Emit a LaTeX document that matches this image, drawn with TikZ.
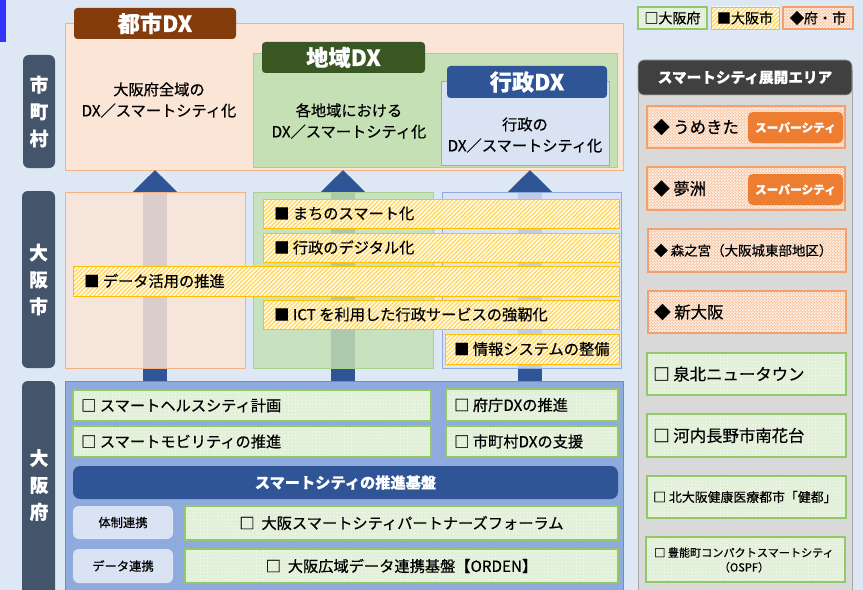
\documentclass[tikz,border=0pt]{standalone}
\usepackage{fontspec}
\setmainfont{Noto Sans CJK JP}[FakeBold=0.5]
\usetikzlibrary{patterns,patterns.meta,arrows.meta}
\pgfdeclarepattern{name=finechk, type=uncolored, bottom left={\pgfpoint{0pt}{0pt}}, top right={\pgfpoint{2.4pt}{2.4pt}}, tile size={\pgfpoint{2.4pt}{2.4pt}}, code={\pgfpathrectangle{\pgfpointorigin}{\pgfpoint{1.2pt}{1.2pt}}\pgfpathrectangle{\pgfpoint{1.2pt}{1.2pt}}{\pgfpoint{1.2pt}{1.2pt}}\pgfusepath{fill}}}
\definecolor{bgc}{RGB}{221,232,244}
\definecolor{labc}{RGB}{68,84,106}
\definecolor{orfill}{RGB}{251,229,214}
\definecolor{orline}{RGB}{244,177,131}
\definecolor{brownc}{RGB}{132,60,12}
\definecolor{grfill}{RGB}{197,224,180}
\definecolor{grline}{RGB}{169,209,142}
\definecolor{dkgreen}{RGB}{56,87,35}
\definecolor{blfill}{RGB}{218,227,243}
\definecolor{blline}{RGB}{143,170,220}
\definecolor{dkblue}{RGB}{47,85,151}
\definecolor{fubox}{RGB}{143,170,220}
\definecolor{fuline}{RGB}{110,142,200}
\definecolor{hyel}{RGB}{255,217,102}
\definecolor{hyline}{RGB}{255,192,0}
\definecolor{dgfill}{RGB}{226,240,217}
\definecolor{dgline}{RGB}{146,200,106}
\definecolor{chfill}{RGB}{247,196,160}
\definecolor{chline}{RGB}{241,160,110}
\definecolor{badge}{RGB}{237,125,49}
\definecolor{panel}{RGB}{217,217,217}
\definecolor{panline}{RGB}{166,166,166}
\definecolor{headc}{RGB}{64,64,64}
\definecolor{edgeblue}{RGB}{51,51,255}
\newcommand\pbox[6]{\node[#1, inner sep=0pt, minimum width={((#5)-(#3))*0.03cm}, minimum height={((#6)-(#4))*0.03cm}] (#2) at ({((#3)+(#5))/2},{((#4)+(#6))/2}) {};}
\tikzset{
  body/.style={font=\fontsize{13}{18}\selectfont, text=black, inner sep=0pt},
  lab/.style={fill=labc, rounded corners=5pt},
  labtxt/.style={font=\fontsize{16}{23}\selectfont\bfseries, text=white, align=center, inner sep=0pt},
  tabbox/.style={rounded corners=3pt},
  tabtxt/.style={font=\fontsize{19}{22}\selectfont\bfseries, text=white, inner sep=0pt},
  hatchbar/.style={draw=hyline, line width=0.8pt, preaction={fill=hyel}, pattern={Lines[angle=45,distance=2.6pt,line width=1.1pt]}, pattern color=white},
  dotbox/.style={draw=dgline, line width=1pt, preaction={fill=dgfill}, pattern={Dots[radius=0.45pt,distance=3pt]}, pattern color=white},
  checkbox/.style={draw=chline, line width=1pt, preaction={fill=chfill}, pattern=finechk, pattern color=white},
  bigarr/.style={draw=dkblue, line width=0.72cm, -{Triangle[width=1.35cm,length=0.69cm]}},
}
\begin{document}
\begin{tikzpicture}[x=0.03cm,y=-0.03cm]
\clip (0,0) rectangle (863,590);
\fill[bgc] (0,0) rectangle (863,590);
\fill[edgeblue] (0,0) rectangle (6,42);
% left labels
\pbox{lab}{lsc}{23}{55}{55}{168}
\node[labtxt] (lsct) at (lsc) {市\\町\\村};
\pbox{lab}{lsi}{22}{191}{55}{368}
\node[labtxt] (lsit) at (lsi) {大\\阪\\市};
\pbox{lab}{lfu}{22}{381}{55}{610}
\node[labtxt] (lfut) at (39,485) {大\\阪\\府};
% top city DX
\pbox{fill=orfill, draw=orline, line width=0.8pt}{toshi}{65}{23}{623}{170}
\pbox{tabbox, fill=brownc}{toshitab}{74}{8}{236}{39}
\node[tabtxt] (toshit) at (toshitab) {都市DX};
\node[body, align=center] (toshibody) at (159,100) {大阪府全域の\\DX／スマートシティ化};
\pbox{fill=grfill, draw=grline, line width=0.8pt}{chiiki}{253}{53}{617}{167}
\pbox{tabbox, fill=dkgreen}{chiikitab}{262}{42}{425}{73}
\node[tabtxt] (chiikit) at (chiikitab) {地域DX};
\node[body, align=center] (chiikibody) at (349,121) {各地域における\\DX／スマートシティ化};
\pbox{fill=blfill, draw=blline, line width=0.8pt}{gyosei}{441}{81}{609}{165}
\pbox{tabbox, fill=dkblue}{gyoseitab}{447}{66}{607}{98}
\node[tabtxt] (gyoseit) at (gyoseitab) {行政DX};
\node[body, align=center] (gyoseibody) at (525,135) {行政の\\DX／スマートシティ化};
% arrows
\coordinate (a1b) at (155,390); \coordinate (a1t) at (155,170);
\coordinate (a2b) at (343,390); \coordinate (a2t) at (343,170);
\coordinate (a3b) at (530,390); \coordinate (a3t) at (530,170);
\draw[bigarr] (a1b) -- (a1t);
\draw[bigarr] (a2b) -- (a2t);
\draw[bigarr] (a3b) -- (a3t);
% Osaka city row
\pbox{fill=orfill, fill opacity=0.84, draw=orline, line width=0.8pt}{siL}{65}{192}{245}{368}
\pbox{fill=grfill, fill opacity=0.84, draw=grline, line width=0.8pt}{siM}{253}{192}{433}{368}
\pbox{fill=blfill, fill opacity=0.84, draw=blline, line width=0.8pt}{siR}{442}{192}{621}{368}
\pbox{hatchbar}{b1}{263}{199}{619}{228}
\node[body, anchor=west] (b1t) at (274,213.5) {■ まちのスマート化};
\pbox{hatchbar}{b2}{263}{233}{619}{262}
\node[body, anchor=west] (b2t) at (274,247.5) {■ 行政のデジタル化};
\pbox{hatchbar}{b3}{73}{266}{619}{296}
\node[body, anchor=west] (b3t) at (84,281) {■ データ活用の推進};
\pbox{hatchbar}{b4}{263}{300}{619}{329}
\node[body, anchor=west] (b4t) at (274,314.5) {■ ICT を利用した行政サービスの強靭化};
\pbox{hatchbar}{b5}{445}{334}{619}{364}
\node[body, anchor=west] (b5t) at (454,349) {■ 情報システムの整備};
% Osaka prefecture
\pbox{fill=fubox, draw=fuline, line width=0.8pt}{fu}{65}{381}{623}{610}
\pbox{dotbox}{g1}{73}{390}{431}{421}
\node[body, anchor=west] (g1t) at (81,405.5) {□ スマートヘルスシティ計画};
\pbox{dotbox}{g2}{73}{426}{431}{457}
\node[body, anchor=west] (g2t) at (81,441.5) {□ スマートモビリティの推進};
\pbox{dotbox}{g3}{446}{389}{618}{421}
\node[body, anchor=west] (g3t) at (454,405) {□ 府庁DXの推進};
\pbox{dotbox}{g4}{446}{426}{618}{457}
\node[body, anchor=west] (g4t) at (454,441.5) {□ 市町村DXの支援};
\pbox{fill=dkblue, rounded corners=6pt}{kiban}{73}{466}{618}{499}
\node[font=\fontsize{13}{16}\selectfont\bfseries, text=white, inner sep=0pt] (kibant) at (kiban) {スマートシティの推進基盤};
\pbox{fill=blfill, rounded corners=5pt}{k1}{73}{506}{173}{539}
\node[font=\fontsize{10.5}{13}\selectfont, inner sep=0pt] (k1t) at (k1) {体制連携};
\pbox{fill=blfill, rounded corners=5pt}{k2}{73}{549}{173}{583}
\node[font=\fontsize{10.5}{13}\selectfont, inner sep=0pt] (k2t) at (k2) {データ連携};
\pbox{dotbox}{g5}{185}{506}{618}{540}
\node[body] (g5t) at (g5) {□\ \ 大阪スマートシティパートナーズフォーラム};
\pbox{dotbox}{g6}{185}{549}{618}{583}
\node[body] (g6t) at (g6) {□\ \ 大阪広域データ連携基盤【ORDEN】};
% legend
\pbox{dotbox}{lg1}{638}{7}{707}{29}
\node[font=\fontsize{12}{14}\selectfont, inner sep=0pt] (lg1t) at (lg1) {□大阪府};
\pbox{hatchbar}{lg2}{711}{7}{779}{29}
\node[font=\fontsize{12}{14}\selectfont, inner sep=0pt] (lg2t) at (lg2) {■大阪市};
\pbox{checkbox}{lg3}{783}{7}{853}{29}
\node[font=\fontsize{12}{14}\selectfont, inner sep=0pt] (lg3t) at (lg3) {◆府・市};
% right panel
\pbox{fill=panel, draw=panline, line width=0.8pt}{pan}{638}{70}{852}{610}
\pbox{fill=headc, draw=panline, line width=0.6pt, rounded corners=5pt}{panhead}{638}{60}{852}{95}
\node[font=\fontsize{12.5}{15}\selectfont\bfseries, text=white, inner sep=0pt] (panheadt) at (panhead) {スマートシティ展開エリア};
\pbox{checkbox}{r1}{647}{106}{845}{148}
\node[body, font=\fontsize{14}{16}\selectfont, anchor=west] (r1t) at (653,127) {◆ うめきた};
\pbox{fill=badge, rounded corners=4pt}{r1b}{748}{112}{843}{143}
\node[font=\fontsize{10}{12}\selectfont\bfseries, text=white, inner sep=0pt] (r1bt) at (r1b) {スーパーシティ};
\pbox{checkbox}{r2}{647}{167}{845}{210}
\node[body, font=\fontsize{14}{16}\selectfont, anchor=west] (r2t) at (653,188.5) {◆ 夢洲};
\pbox{fill=badge, rounded corners=4pt}{r2b}{748}{174}{843}{205}
\node[font=\fontsize{10}{12}\selectfont\bfseries, text=white, inner sep=0pt] (r2bt) at (r2b) {スーパーシティ};
\pbox{checkbox}{r3}{648}{229}{846}{272}
\node[body, font=\fontsize{11.5}{13}\selectfont, anchor=west] (r3t) at (654,250.5) {◆ 森之宮（大阪城東部地区）};
\pbox{checkbox}{r4}{648}{291}{846}{333}
\node[body, font=\fontsize{14}{16}\selectfont, anchor=west] (r4t) at (654,312) {◆ 新大阪};
\pbox{dotbox}{r5}{647}{353}{846}{395}
\node[body, font=\fontsize{14}{16}\selectfont, anchor=west] (r5t) at (653,374) {□ 泉北ニュータウン};
\pbox{dotbox}{r6}{647}{414}{846}{457}
\node[body, font=\fontsize{14}{16}\selectfont, anchor=west] (r6t) at (653,435.5) {□ 河内長野市南花台};
\pbox{dotbox}{r7}{647}{476}{846}{518}
\node[body, font=\fontsize{11}{13}\selectfont, anchor=west] (r7t) at (653,497) {□ 北大阪健康医療都市「健都」};
\pbox{dotbox}{r8}{646}{537}{845}{582}
\node[body, font=\fontsize{9.5}{12.5}\selectfont, align=center] (r8t) at (744,560) {□ 豊能町コンパクトスマートシティ\\（OSPF）};
\end{tikzpicture}
\end{document}
